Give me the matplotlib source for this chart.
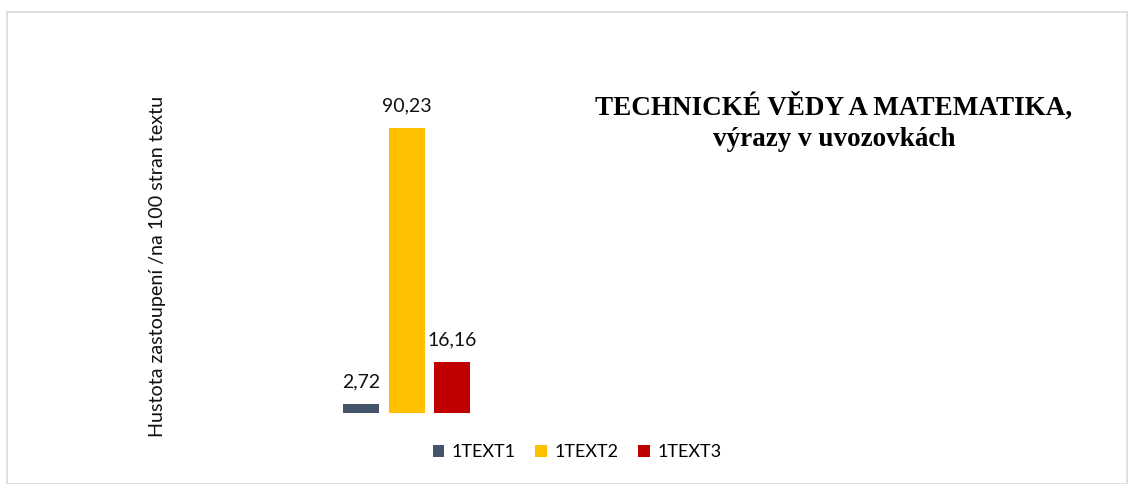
import matplotlib
matplotlib.use("Agg")
import matplotlib.pyplot as plt
from matplotlib.patches import Rectangle

series = ["1TEXT1", "1TEXT2", "1TEXT3"]
values = [2.72, 90.23, 16.16]
labels = ["2,72", "90,23", "16,16"]
colors = ["#44546A", "#FFC000", "#C00000"]
ylabel = "Hustota zastoupení /na 100 stran textu"
title_lines = ["TECHNICKÉ VĚDY A MATEMATIKA,", "výrazy v uvozovkách"]

W, H = 1129, 484
fig = plt.figure(figsize=(W / 100, H / 100), dpi=100)
fig.patches.append(Rectangle((7 / W, 0), (W - 9) / W, (H - 12) / H, transform=fig.transFigure,
                             fill=False, edgecolor="#D9D9D9", linewidth=1.2))

unit = 45.5
left_px, right_px = 100, 1100
c0 = 361
base_px, top_px = 413, 97
ax = fig.add_axes([left_px / W, (H - base_px) / H, (right_px - left_px) / W, (base_px - top_px) / H])
ax.set_xlim(-(c0 - left_px) / unit, (right_px - c0) / unit)
ax.set_ylim(0, 100)
ax.axis("off")

font = "Lato"
xs = list(range(len(series)))
bars = ax.bar(xs, values, width=36 / unit, color=colors, label=series)
for x, v, lab in zip(xs, values, labels):
    ax.annotate(lab, (x, v), xytext=(0, 10), textcoords="offset points", ha="center", va="bottom",
                fontsize=14, family=font, color="#111111")

fig.text(157 / W, (H - 266) / H, ylabel, rotation=90, ha="center", va="center",
         fontsize=14.2, family=font, color="#111111")

fig.text(834 / W, (H - 107) / H, title_lines[0], ha="center", va="center", fontsize=19.5,
         fontweight="bold", family="Liberation Serif")
fig.text(834 / W, (H - 139) / H, title_lines[1], ha="center", va="center", fontsize=19.5,
         fontweight="bold", family="Liberation Serif")

fig.legend(handles=bars, labels=series, loc="center", bbox_to_anchor=(577 / W, (H - 452) / H),
           ncol=3, frameon=False, prop={"family": font, "size": 13}, handlelength=0.65,
           handleheight=0.65, handletextpad=0.4, columnspacing=1.1)

fig.savefig("out.png", dpi=100)
